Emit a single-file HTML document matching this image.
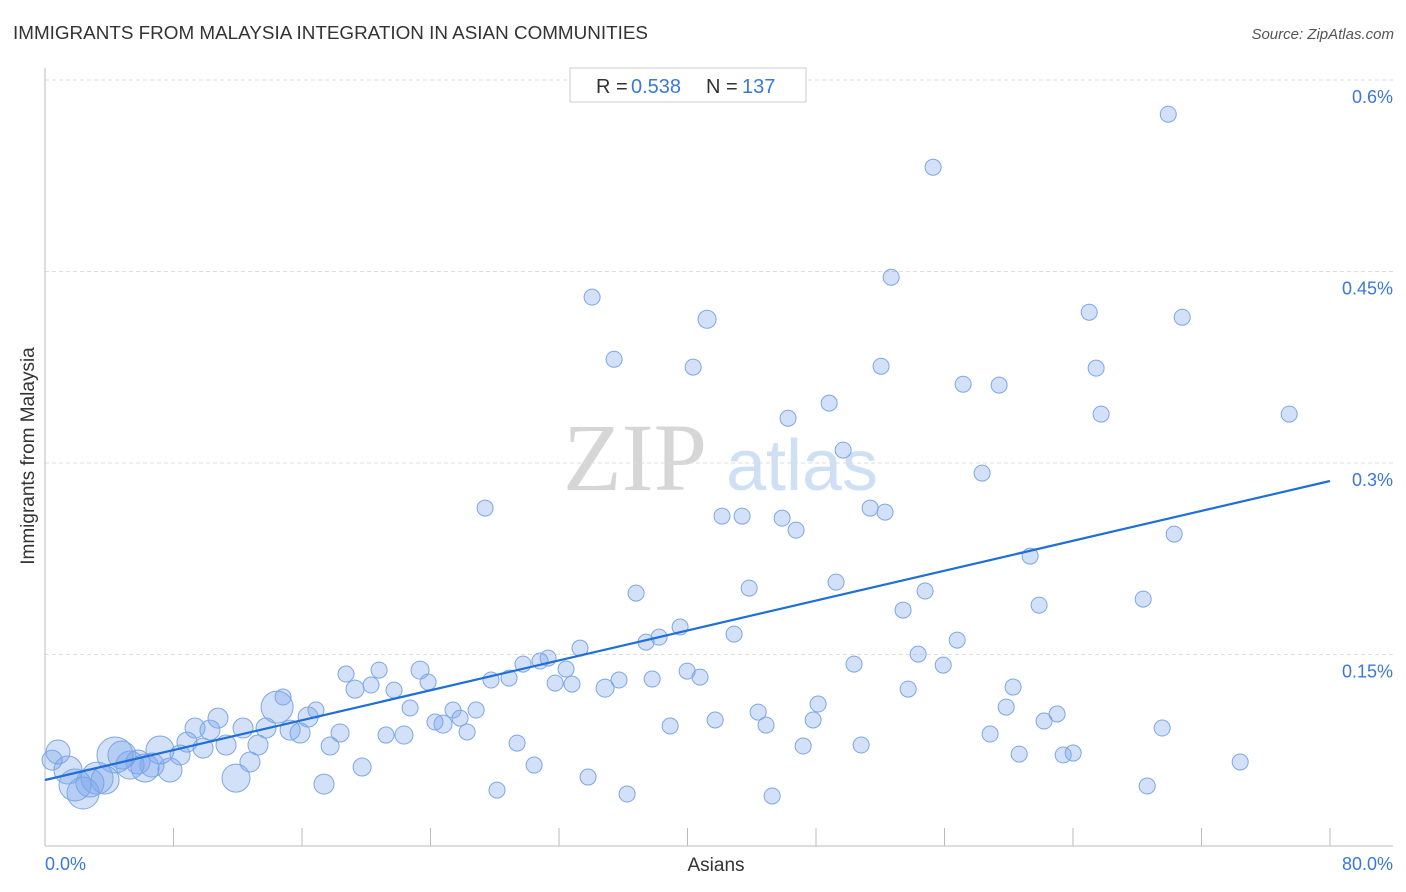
<!DOCTYPE html>
<html><head><meta charset="utf-8"><style>
html,body{margin:0;padding:0;background:#fff;width:1406px;height:892px;overflow:hidden;font-family:"Liberation Sans",sans-serif;}
</style></head><body>
<svg id="chart" width="1406" height="892" viewBox="0 0 1406 892" xmlns="http://www.w3.org/2000/svg" font-family="Liberation Sans, sans-serif">
<text x="13" y="39" font-size="18" fill="#333" textLength="635" lengthAdjust="spacingAndGlyphs">IMMIGRANTS FROM MALAYSIA INTEGRATION IN ASIAN COMMUNITIES</text>
<text x="1394" y="39" font-size="15" fill="#555" text-anchor="end" font-style="italic">Source: ZipAtlas.com</text>
<g>
<text x="635" y="490" font-size="96" fill="#d6d6d6" text-anchor="middle" style="font-family:'Liberation Serif',serif">ZIP</text>
<text x="802" y="490" font-size="72" fill="#cfe0f5" text-anchor="middle">atlas</text>
</g>
<g id="grid"></g>
<g id="axes"></g>
<g id="points"></g>
<g id="trend"></g>
<g>
<rect x="570" y="68" width="236" height="34" fill="#fff" stroke="#ccc"/>
<text x="596" y="93" font-size="20" fill="#333">R =</text>
<text x="631" y="93" font-size="20" fill="#3b78d8">0.538</text>
<text x="706" y="93" font-size="20" fill="#333">N =</text>
<text x="742" y="93" font-size="20" fill="#3b78d8">137</text>
</g>
<text x="716" y="871" font-size="19" fill="#333" text-anchor="middle">Asians</text>
<text transform="translate(34,456) rotate(-90)" font-size="19" fill="#333" text-anchor="middle">Immigrants from Malaysia</text>
</svg>
<script>
const xVals=[0.44,0.81,1.43,1.87,2.37,2.80,3.24,3.74,4.36,4.79,5.29,5.79,6.23,6.66,7.16,7.78,8.41,8.84,9.34,9.84,10.27,10.77,11.27,11.89,12.33,12.76,13.26,13.76,14.45,14.82,15.26,15.88,16.38,16.87,17.37,17.75,18.37,18.74,19.30,19.74,20.30,20.80,21.23,21.73,22.35,22.73,23.35,23.85,24.28,24.78,25.40,25.84,26.28,26.84,27.40,27.77,28.14,28.89,29.39,29.76,30.45,30.82,31.32,31.76,32.44,32.81,33.31,33.81,34.06,34.87,35.43,35.74,36.24,36.80,37.42,37.80,38.23,38.92,39.54,39.98,40.35,40.78,41.22,41.72,42.15,42.90,43.40,43.84,44.40,44.89,45.27,45.89,46.26,46.76,47.20,47.82,48.13,48.82,49.25,49.69,50.37,50.81,51.37,52.05,52.30,52.68,53.42,53.74,54.36,54.79,55.29,55.92,56.79,57.16,58.34,58.84,59.40,59.84,60.27,60.65,61.33,61.89,62.20,63.01,63.39,64.01,65.01,65.44,65.75,68.37,68.62,69.55,69.93,70.30,70.80,74.41,77.46];
const yVals=[0.0673,0.0736,0.0595,0.0478,0.0415,0.0493,0.0532,0.0517,0.0713,0.0713,0.0634,0.0658,0.0611,0.0634,0.0752,0.0595,0.0713,0.0814,0.0924,0.0767,0.0908,0.1002,0.0791,0.0532,0.0924,0.0658,0.0791,0.0924,0.1088,0.1167,0.0908,0.0885,0.1010,0.1065,0.0485,0.0783,0.0885,0.1347,0.1229,0.0619,0.1261,0.1378,0.0869,0.1221,0.0869,0.1081,0.1378,0.1284,0.0971,0.0955,0.1065,0.1002,0.0893,0.1065,0.2647,0.1300,0.0438,0.1315,0.0806,0.1425,0.0634,0.1449,0.1472,0.1276,0.1386,0.1268,0.1550,0.0540,0.4299,0.1237,0.3813,0.1300,0.0407,0.1981,0.1597,0.1308,0.1636,0.0940,0.1715,0.1370,0.3751,0.1323,0.4126,0.0987,0.2584,0.1660,0.2584,0.2020,0.1049,0.0947,0.0392,0.2568,0.3351,0.2474,0.0783,0.0987,0.1112,0.3469,0.2067,0.3101,0.1425,0.0791,0.2647,0.3758,0.2615,0.4455,0.1848,0.1229,0.1503,0.1997,0.5317,0.1417,0.1613,0.3617,0.2921,0.0877,0.3610,0.1088,0.1245,0.0720,0.2271,0.1887,0.0979,0.1034,0.0713,0.0728,0.4181,0.3743,0.3383,0.1934,0.0470,0.0924,0.5732,0.2443,0.4142,0.0658,0.3383];
const sizes=[10,12,14,16,16,14,16,14,18,14,14,12,14,12,14,12,10,10,10,10,10,10,10,14,10,10,10,10,16,8,10,10,10,8,10,9,9,8,9,9,8,8,8,8,9,8,9,8,8,9,8,8,8,8,8,8,8,8,8,8,8,8,8,8,8,8,8,8,8,9,8,8,8,8,8,8,8,8,8,8,8,8,9,8,8,8,8,8,8,8,8,8,8,8,8,8,8,8,8,8,8,8,8,8,8,8,8,8,8,8,8,8,8,8,8,8,8,8,8,8,8,8,8,8,8,8,8,8,8,8,8,8,8,8,8,8,8];
const trendX=[0,80];
const trendY=[0.0517,0.2859];
const yTicks=[0.15,0.3,0.45,0.6];
const yTickLabels=["0.15%","0.3%","0.45%","0.6%"];
const xTickCount=10;
const xMin=0,xMax=80,yMin=0,yMax=0.6;
const L=45,R=1330,B=846,T=80;
const sx=v=>L+(v-xMin)/(xMax-xMin)*(R-L);
const sy=v=>B-(v-yMin)/(yMax-yMin)*(B-T);
const NS="http://www.w3.org/2000/svg";
function mk(tag,parent,attrs){const e=document.createElementNS(NS,tag);for(const k in attrs)e.setAttribute(k,attrs[k]);parent.appendChild(e);return e;}
const grid=document.getElementById('grid'),axes=document.getElementById('axes'),pts=document.getElementById('points'),tr=document.getElementById('trend');
yTicks.forEach((t,i)=>{
 const g=mk('line',grid,{x1:L,x2:1393,y1:sy(t),y2:sy(t),stroke:'#ddd','stroke-dasharray':'4,3'});
 
 
 const tx=mk('text',axes,{x:1393,y:sy(t)+23,'font-size':18,fill:'#3b78d8','text-anchor':'end'});
 tx.textContent=yTickLabels[i];
 
 
});
const ax=mk('line',axes,{x1:L,x2:1393,y1:B,y2:B,stroke:'#bbb'});


const ay=mk('line',axes,{x1:L,x2:L,y1:68,y2:B,stroke:'#bbb'});


for(let i=0;i<=xTickCount;i++){
 const x=sx(xMin+i*(xMax-xMin)/xTickCount);
 const tk=mk('line',axes,{x1:x,x2:x,y1:828,y2:B,stroke:'#bbb'});
 
 
}
const xl0=mk('text',axes,{x:45,y:870,'font-size':18,fill:'#3b78d8'});xl0.textContent=xMin.toFixed(1)+'%';


const xl1=mk('text',axes,{x:1393,y:870,'font-size':18,fill:'#3b78d8','text-anchor':'end'});xl1.textContent=xMax.toFixed(1)+'%';


xVals.forEach((v,i)=>{
 const c=mk('circle',pts,{cx:sx(v),cy:sy(yVals[i]),r:sizes[i],fill:'rgba(120,165,235,0.33)',stroke:'#7ea6e6','stroke-width':1});
 
 
});
const ln=mk('line',tr,{x1:sx(trendX[0]),y1:sy(trendY[0]),x2:sx(trendX[1]),y2:sy(trendY[1]),stroke:'#1f6fd8','stroke-width':2.2});


</script>
</body></html>
